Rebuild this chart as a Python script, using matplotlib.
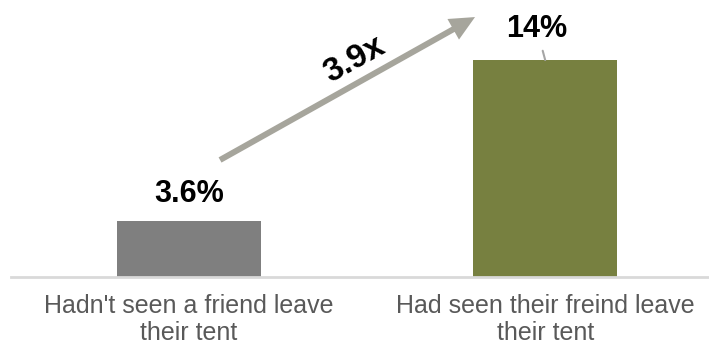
import matplotlib
matplotlib.use("Agg")
import matplotlib.pyplot as plt
import numpy as np

CATEGORIES = ["Hadn't seen a friend leave\ntheir tent", "Had seen their freind leave\ntheir tent"]
VALUES = [3.6, 14]
LABELS = ["3.6%", "14%"]
COLORS = ["#7F7F7F", "#778040"]
ARROW = "#A6A59C"

plt.rcParams.update({
    "font.family": ["Liberation Sans", "DejaVu Sans"],
})

fig = plt.figure(figsize=(7.09, 3.49), dpi=100)
ax = fig.add_axes([11 / 709, 72 / 349, 698 / 709, 277 / 349])

x = np.arange(len(VALUES))
ax.bar(x, VALUES, width=0.405, color=COLORS, zorder=2)
ax.set_xlim(-0.5, 1.46)
ax.set_ylim(0, 277 / 15.5)

for s in ["top", "right", "left"]:
    ax.spines[s].set_visible(False)
ax.spines["bottom"].set_color("#D9D9D9")
ax.spines["bottom"].set_linewidth(2)
ax.set_yticks([])
ax.set_xticks(x, CATEGORIES)
ax.tick_params(axis="x", length=0, pad=12, labelsize=18, labelcolor="#595959")
for t in ax.get_xticklabels():
    t.set_linespacing(1.15)

# small bar label
ax.annotate(LABELS[0], xy=(x[0], VALUES[0]), xytext=(0, 14), textcoords="offset points",
            ha="center", va="baseline", fontsize=22, fontweight="bold")
# big bar label with leader line
ax.annotate(LABELS[1], xy=(x[1], VALUES[1]), xytext=(-6, 16.6), textcoords="offset points",
            ha="center", va="baseline", fontsize=22, fontweight="bold",
            arrowprops=dict(arrowstyle="-", color="#A6A6A6", lw=1.5, shrinkA=3, shrinkB=0))

# growth arrow
ratio = VALUES[1] / VALUES[0]
ax.annotate("", xy=(0.803, 16.77), xytext=(0.087, 7.55),
            arrowprops=dict(facecolor=ARROW, edgecolor="none", width=4.3,
                            headwidth=17, headlength=18, shrink=0))
ax.text(0.466, 14.0, f"{ratio:.1f}x", rotation=29, ha="center", va="center",
        fontsize=24, fontweight="bold", rotation_mode="anchor")

fig.savefig("out.png", dpi=100)
